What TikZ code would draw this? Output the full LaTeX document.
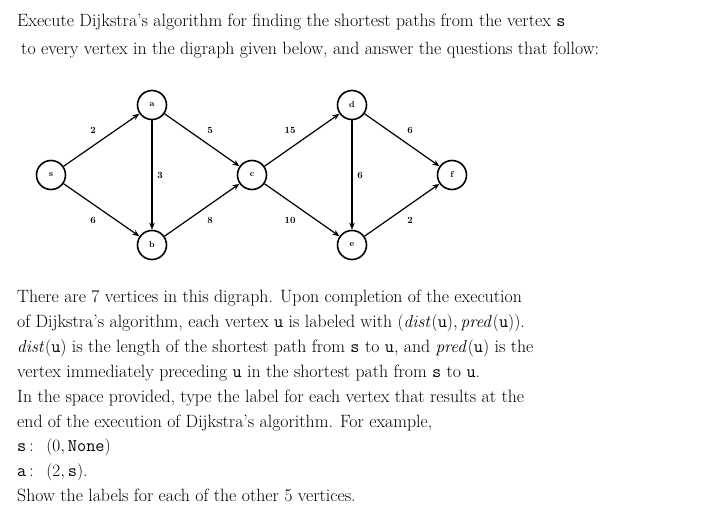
\documentclass[tikz,border=0pt]{standalone}
\usetikzlibrary{arrows.meta}
\begin{document}
\begin{tikzpicture}[x=1pt,y=-1pt,
  vert/.style={circle,draw,line width=1.6pt,minimum size=29pt,inner sep=0pt,font=\bfseries\fontsize{8.5}{9}\selectfont},
  edge/.style={-{Stealth[length=7pt,width=5.5pt]},line width=1.2pt},
  wt/.style={font=\bfseries\fontsize{9.5}{11}\selectfont},
  txt/.style={anchor=base west,inner sep=0pt,font=\fontsize{17.8}{20}\selectfont}]
\useasboundingbox (0,0) rectangle (722,508);
\node[txt] (t1) at (17,27) {Execute Dijkstra's algorithm for finding the shortest paths from the vertex \texttt{s}};
\node[txt] (t2) at (21,55) {to every vertex in the digraph given below, and answer the questions that follow:};
\node[vert] (s) at (51,175) {s};
\node[vert] (a) at (152,105) {a};
\node[vert] (b) at (152,245) {b};
\node[vert] (c) at (252,175) {c};
\node[vert] (d) at (352,105) {d};
\node[vert] (e) at (352,245) {e};
\node[vert] (f) at (452,175) {f};
\draw[edge] (s) -- (a); \draw[edge] (s) -- (b);
\draw[edge] (a) -- (b); \draw[edge] (a) -- (c); \draw[edge] (b) -- (c);
\draw[edge] (c) -- (d); \draw[edge] (c) -- (e); \draw[edge] (d) -- (e);
\draw[edge] (d) -- (f); \draw[edge] (e) -- (f);
\node[wt] (w1) at (93,130) {2};
\node[wt] (w2) at (93,220) {6};
\node[wt] (w3) at (160,175) {3};
\node[wt] (w4) at (210,130) {5};
\node[wt] (w5) at (210,220) {8};
\node[wt] (w6) at (290,130) {15};
\node[wt] (w7) at (290,220) {10};
\node[wt] (w8) at (360,175) {6};
\node[wt] (w9) at (410,130) {6};
\node[wt] (w10) at (410,220) {2};
\node[txt] (p1) at (17,302) {There are 7 vertices in this digraph. Upon completion of the execution};
\node[txt] (p2) at (17,327) {of Dijkstra's algorithm, each vertex \texttt{u} is labeled with $(\mathit{dist}(\texttt{u}), \mathit{pred}(\texttt{u}))$.};
\node[txt] (p3) at (17,352) {$\mathit{dist}(\texttt{u})$ is the length of the shortest path from \texttt{s} to \texttt{u}, and $\mathit{pred}(\texttt{u})$ is the};
\node[txt] (p4) at (17,377) {vertex immediately preceding \texttt{u} in the shortest path from \texttt{s} to \texttt{u}.};
\node[txt] (p5) at (17,402) {In the space provided, type the label for each vertex that results at the};
\node[txt] (p6) at (17,427) {end of the execution of Dijkstra's algorithm. For example,};
\node[txt] (p7) at (17,451) {\texttt{s}\,: \ $(0, \texttt{None})$};
\node[txt] (p8) at (17,476) {\texttt{a}\,: \ $(2, \texttt{s})$.};
\node[txt] (p9) at (17,501) {Show the labels for each of the other 5 vertices.};
\end{tikzpicture}
\end{document}
